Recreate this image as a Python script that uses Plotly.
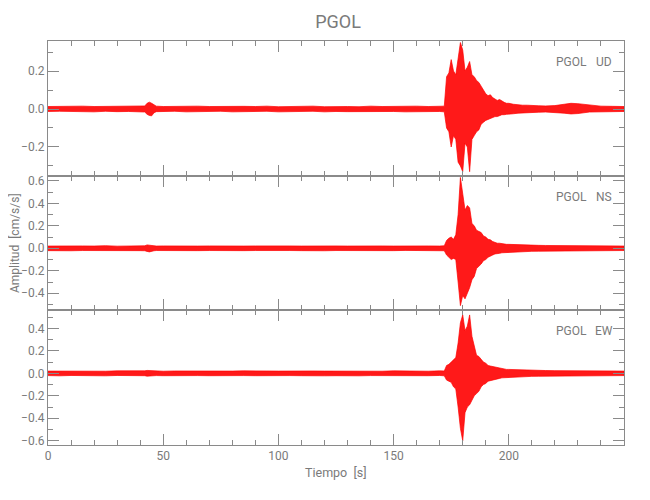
import plotly.graph_objects as go

# ---------------- data ----------------
# Time grid [s], split into quiet pre-event, event and coda segments
T_pre = [0, 5, 10, 15, 20, 25, 30, 35, 40, 42, 43, 44, 45, 46, 47,
         50, 55, 60, 65, 70, 75, 80, 85, 90, 95, 100, 105, 110, 115, 120,
         125, 130, 135, 140, 145, 150, 155, 160, 165, 170, 172]
T_evt = [173, 174, 175, 176, 177, 178, 179, 180, 181, 182, 183, 184, 185, 186,
         187, 188, 189, 190, 191, 192, 193, 194, 195, 196, 197, 198, 199, 200]
T_post = [202, 204, 206, 208, 210, 213, 216, 220, 224, 227, 230, 235, 240, 245, 250]

# UD component: upper / lower envelope of the trace [cm/s/s]
UD_up_pre = [0.013, 0.014, 0.012, 0.015, 0.013, 0.014, 0.012, 0.015, 0.014, 0.016,
             0.030, 0.036, 0.030, 0.022, 0.015,
             0.013, 0.014, 0.012, 0.015, 0.013, 0.014, 0.012, 0.014, 0.013, 0.015,
             0.012, 0.014, 0.013, 0.015, 0.012, 0.014, 0.013, 0.012, 0.015, 0.013,
             0.014, 0.012, 0.015, 0.013, 0.014, 0.015]
UD_lo_pre = [-0.013, -0.012, -0.014, -0.013, -0.015, -0.012, -0.014, -0.013, -0.015, -0.016,
             -0.028, -0.034, -0.036, -0.020, -0.014,
             -0.014, -0.012, -0.015, -0.013, -0.014, -0.012, -0.015, -0.013, -0.014, -0.012,
             -0.015, -0.013, -0.014, -0.012, -0.015, -0.013, -0.014, -0.015, -0.012, -0.014,
             -0.013, -0.015, -0.012, -0.014, -0.013, -0.015]
UD_up_evt = [0.17, 0.19, 0.26, 0.20, 0.18, 0.28, 0.35, 0.31, 0.20, 0.22, 0.25, 0.18, 0.17, 0.15,
             0.14, 0.12, 0.10, 0.08, 0.07, 0.075, 0.06, 0.05, 0.045, 0.05, 0.04, 0.035, 0.03, 0.03]
UD_lo_evt = [-0.10, -0.12, -0.20, -0.14, -0.16, -0.28, -0.30, -0.33, -0.18, -0.20, -0.33, -0.16,
             -0.14, -0.12, -0.11, -0.08, -0.07, -0.06, -0.055, -0.05, -0.045, -0.04, -0.04,
             -0.035, -0.03, -0.03, -0.028, -0.025]
UD_up_post = [0.025, 0.022, 0.020, 0.020, 0.018, 0.017, 0.016, 0.018, 0.025, 0.030, 0.028,
              0.020, 0.015, 0.014, 0.013]
UD_lo_post = [-0.025, -0.022, -0.020, -0.020, -0.018, -0.017, -0.016, -0.018, -0.022, -0.026,
              -0.024, -0.016, -0.015, -0.014, -0.013]

# NS component
NS_up_pre = [0.020, 0.022, 0.019, 0.021, 0.020, 0.023, 0.019, 0.021, 0.020, 0.022,
             0.030, 0.028, 0.030, 0.024, 0.020,
             0.021, 0.019, 0.022, 0.020, 0.021, 0.019, 0.022, 0.020, 0.021, 0.023,
             0.019, 0.021, 0.020, 0.022, 0.019, 0.021, 0.020, 0.022, 0.019, 0.021,
             0.020, 0.022, 0.019, 0.021, 0.020, 0.022]
NS_lo_pre = [-0.021, -0.019, -0.022, -0.020, -0.021, -0.019, -0.022, -0.020, -0.021, -0.022,
             -0.028, -0.032, -0.027, -0.022, -0.020,
             -0.020, -0.022, -0.019, -0.021, -0.020, -0.022, -0.019, -0.021, -0.020, -0.019,
             -0.022, -0.020, -0.021, -0.019, -0.022, -0.020, -0.021, -0.019, -0.022, -0.020,
             -0.021, -0.019, -0.022, -0.020, -0.021, -0.022]
NS_up_evt = [0.07, 0.09, 0.10, 0.08, 0.12, 0.30, 0.63, 0.50, 0.34, 0.38, 0.36, 0.22, 0.20, 0.16,
             0.15, 0.14, 0.11, 0.10, 0.08, 0.075, 0.06, 0.05, 0.045, 0.045, 0.04, 0.038, 0.035, 0.035]
NS_lo_evt = [-0.06, -0.08, -0.10, -0.09, -0.10, -0.30, -0.51, -0.42, -0.45, -0.40, -0.35, -0.28,
             -0.25, -0.18, -0.16, -0.14, -0.11, -0.10, -0.08, -0.07, -0.06, -0.05, -0.045,
             -0.045, -0.04, -0.038, -0.035, -0.035]
NS_up_post = [0.033, 0.030, 0.030, 0.028, 0.027, 0.026, 0.025, 0.024, 0.024, 0.023, 0.022,
              0.022, 0.021, 0.021, 0.020]
NS_lo_post = [-0.033, -0.030, -0.029, -0.028, -0.027, -0.026, -0.025, -0.024, -0.023, -0.023,
              -0.022, -0.021, -0.021, -0.020, -0.020]

# EW component
EW_up_pre = [0.020, 0.019, 0.022, 0.020, 0.021, 0.019, 0.022, 0.020, 0.021, 0.022,
             0.026, 0.024, 0.027, 0.022, 0.020,
             0.019, 0.021, 0.020, 0.022, 0.019, 0.021, 0.020, 0.022, 0.019, 0.021,
             0.020, 0.022, 0.019, 0.021, 0.020, 0.019, 0.022, 0.020, 0.021, 0.019,
             0.022, 0.020, 0.021, 0.019, 0.022, 0.021]
EW_lo_pre = [-0.020, -0.022, -0.019, -0.021, -0.020, -0.022, -0.019, -0.021, -0.020, -0.021,
             -0.025, -0.027, -0.024, -0.021, -0.020,
             -0.021, -0.019, -0.022, -0.020, -0.021, -0.019, -0.022, -0.020, -0.021, -0.019,
             -0.022, -0.020, -0.021, -0.019, -0.022, -0.021, -0.019, -0.022, -0.020, -0.021,
             -0.019, -0.022, -0.020, -0.021, -0.019, -0.022]
EW_up_evt = [0.07, 0.08, 0.10, 0.12, 0.14, 0.27, 0.45, 0.52, 0.38, 0.42, 0.52, 0.33, 0.25, 0.16,
             0.15, 0.12, 0.10, 0.09, 0.07, 0.065, 0.06, 0.055, 0.05, 0.045, 0.04, 0.038, 0.035, 0.035]
EW_lo_evt = [-0.06, -0.07, -0.08, -0.12, -0.14, -0.30, -0.49, -0.60, -0.35, -0.30, -0.28, -0.24,
             -0.20, -0.18, -0.16, -0.12, -0.10, -0.09, -0.07, -0.065, -0.06, -0.055, -0.05,
             -0.045, -0.04, -0.038, -0.035, -0.035]
EW_up_post = [0.033, 0.031, 0.030, 0.028, 0.027, 0.026, 0.025, 0.024, 0.024, 0.023, 0.022,
              0.022, 0.021, 0.021, 0.020]
EW_lo_post = [-0.033, -0.030, -0.030, -0.028, -0.027, -0.026, -0.025, -0.024, -0.023, -0.023,
              -0.022, -0.021, -0.021, -0.020, -0.020]

STATION = "PGOL"
COMPONENTS = ["UD", "NS", "EW"]
Y_RANGES = {"UD": [-0.351, 0.358], "NS": [-0.552, 0.646], "EW": [-0.638, 0.561]}
X_RANGE = [0, 250]
X_TICKS = [0, 50, 100, 150, 200]
X_TITLE = "Tiempo  [s]"
Y_TITLE = "Amplitud  [cm/s/s]"

# ---------------- figure ----------------
T = T_pre + T_evt + T_post
series = {
    "UD": (UD_up_pre + UD_up_evt + UD_up_post, UD_lo_pre + UD_lo_evt + UD_lo_post),
    "NS": (NS_up_pre + NS_up_evt + NS_up_post, NS_lo_pre + NS_lo_evt + NS_lo_post),
    "EW": (EW_up_pre + EW_up_evt + EW_up_post, EW_lo_pre + EW_lo_evt + EW_lo_post),
}
for k, (u, l) in series.items():
    assert len(u) == len(T) and len(l) == len(T), (k, len(u), len(l), len(T))

FONT = "Roboto, Liberation Sans, sans-serif"
AX_COL = "#8a8a8a"
TXT_COL = "#7a7a7a"
RED = "rgb(255,0,0)"

# The page body has an 8 px margin, so the figure is 8 px smaller than the window.
W, H = 642, 492
ML, MT = 40, 33          # plot area starts at page (48, 41)
PW, PH = 576, 404        # plot area size
MR, MB = W - ML - PW, H - MT - PH
OFF = 8


def px_x(page_x):
    return (page_x - OFF - ML) / PW


def px_y(page_y):
    return (MT + PH - (page_y - OFF)) / PH


ax_ids = {"UD": "3", "NS": "2", "EW": ""}
domains = {"UD": [2 / 3, 1.0], "NS": [1 / 3, 2 / 3], "EW": [0.0, 1 / 3]}

fig = go.Figure()
for comp in COMPONENTS:
    up, lo = series[comp]
    i = ax_ids[comp]
    fig.add_trace(go.Scatter(
        x=T + T[::-1], y=up + lo[::-1],
        mode="lines", fill="toself",
        line=dict(color=RED, width=0.7),
        fillcolor="rgba(255,0,0,0.9)",
        xaxis="x" + i, yaxis="y" + i,
        hoverinfo="skip", showlegend=False,
    ))

common = dict(
    showline=True, linecolor=AX_COL, linewidth=1, mirror="allticks",
    ticks="inside", tickcolor=AX_COL, tickwidth=1,
    showgrid=False, zeroline=False, automargin=False,
    tickfont=dict(family=FONT, size=12, color=TXT_COL),
)

layout = dict(
    width=W, height=H,
    margin=dict(l=ML, r=MR, t=MT, b=MB, autoexpand=False),
    paper_bgcolor="white", plot_bgcolor="white",
    showlegend=False,
    title=dict(text=STATION, x=(338 - OFF) / W, xanchor="center",
               y=1 - (22 - OFF) / H, yanchor="middle",
               font=dict(family=FONT, size=18, color=TXT_COL)),
)

for comp in COMPONENTS:
    i = ax_ids[comp]
    xa = dict(common)
    xa.update(
        range=X_RANGE, domain=[0, 1], anchor="y" + i,
        tickmode="array", tickvals=X_TICKS, ticklen=11,
        minor=dict(dtick=10, tick0=0, ticks="inside", ticklen=5, tickcolor=AX_COL, showgrid=False),
        showticklabels=(comp == "EW"),
    )
    if comp != "EW":
        xa["matches"] = "x"
    ya = dict(common)
    ya.update(
        range=Y_RANGES[comp], domain=domains[comp], anchor="x" + i,
        dtick=0.2, tick0=0, tickformat=".1f", ticklen=11,
        minor=dict(dtick=0.1, tick0=0, ticks="inside", ticklen=5, tickcolor=AX_COL, showgrid=False),
    )
    layout["xaxis" + i] = xa
    layout["yaxis" + i] = ya

fig.update_layout(**layout)

fig.add_annotation(text=X_TITLE, xref="paper", yref="paper", x=px_x(336), y=px_y(472),
                   xanchor="center", yanchor="middle", showarrow=False,
                   font=dict(family=FONT, size=12.5, color=TXT_COL))
fig.add_annotation(text=Y_TITLE, xref="paper", yref="paper", x=px_x(15), y=px_y(243),
                   xanchor="center", yanchor="middle", showarrow=False, textangle=-90,
                   font=dict(family=FONT, size=12, color=TXT_COL))

label_y = {"UD": 62, "NS": 197, "EW": 331}
for comp in COMPONENTS:
    yp = px_y(label_y[comp])
    fig.add_annotation(text=STATION, xref="paper", yref="paper", x=px_x(571), y=yp,
                       xanchor="center", yanchor="middle", showarrow=False,
                       font=dict(family=FONT, size=12, color=TXT_COL))
    fig.add_annotation(text=comp, xref="paper", yref="paper", x=px_x(603.5), y=yp,
                       xanchor="center", yanchor="middle", showarrow=False,
                       font=dict(family=FONT, size=12, color=TXT_COL))

fig.write_html("out.html")
